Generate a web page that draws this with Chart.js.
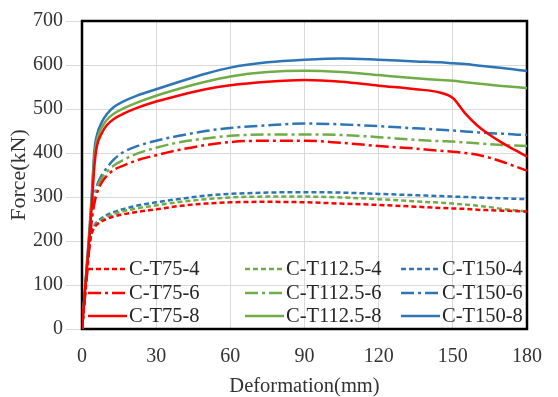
<!DOCTYPE html>
<html>
<head>
<meta charset="utf-8">
<script src="https://cdn.jsdelivr.net/npm/chart.js@4.4.0/dist/chart.umd.min.js"></script>
<style>
html,body{margin:0;padding:0;background:#fff;}
#wrap{width:558px;height:397px;position:relative;}
</style>
</head>
<body>
<div id="wrap"><canvas id="c" width="558" height="397"></canvas></div>
<script>
// Deformation (mm) sample positions
const deformation = [0,1,2,3,4,5,6,8,10,13,17,22,30,40,50,60,75,90,105,120,135,145,150,155,160,165,170,175,180];

// Force (kN) values per specimen
const CT75_4   = [0,68,135,190,218,230,237,245,250,256,261,266,272,280,285,288,289,288,285,282,278,275,274,273,271,270,269,268,267];
const CT75_6   = [0,60,122,188,250,285,308,333,348,362,372,383,395,408,418,425,428,428,423,416,410,405,403,400,396,389,380,370,360];
const CT75_8   = [0,70,140,210,285,370,415,445,463,478,490,502,517,532,545,554,562,566,562,553,545,537,525,490,462,441,423,407,392];
const CT112_4  = [0,69,138,192,220,232,240,249,255,262,268,274,281,289,295,299,301,301,299,295,290,287,285,283,280,277,273,270,267];
const CT112_6  = [0,63,127,195,258,293,318,343,357,372,385,398,412,425,433,439,442,442,441,436,430,427,426,424,422,420,418,417,416];
const CT112_8  = [0,72,145,218,300,390,428,458,475,490,502,514,530,547,562,574,584,587,584,577,570,566,564,561,558,555,552,550,547];
const CT150_4  = [0,70,140,195,222,235,243,252,259,266,273,280,288,296,303,307,310,311,310,307,304,302,301,300,299,298,297,296,295];
const CT150_6  = [0,65,130,200,265,300,325,350,366,386,403,415,428,440,450,457,463,467,465,461,456,453,451,449,447,445,444,442,441];
const CT150_8  = [0,75,150,225,310,405,440,470,488,505,518,530,545,563,580,594,606,612,615,612,608,606,604,602,599,596,593,590,586];

const seriesLabels = ['C-T75-4','C-T75-6','C-T75-8','C-T112.5-4','C-T112.5-6','C-T112.5-8','C-T150-4','C-T150-6','C-T150-8'];
const seriesValues = [CT75_4,CT75_6,CT75_8,CT112_4,CT112_6,CT112_8,CT150_4,CT150_6,CT150_8];

const xTicks = [0,30,60,90,120,150,180];
const yTicks = [0,100,200,300,400,500,600,700];

const RED='#FF0000', GREEN='#70AD47', BLUE='#2E75B6';
const colors = [RED,RED,RED,GREEN,GREEN,GREEN,BLUE,BLUE,BLUE];
const DASHED=[5,3], DASHDOT=[13,4,3,4], SOLID=[];
const dashes = [DASHED,DASHDOT,SOLID,DASHED,DASHDOT,SOLID,DASHED,DASHDOT,SOLID];

const FONT = "'Liberation Serif','Times New Roman',serif";

const datasets = seriesLabels.map((lab,i)=>({
  label: lab,
  data: deformation.map((x,j)=>({x:x,y:seriesValues[i][j]})),
  borderColor: colors[i],
  backgroundColor: colors[i],
  borderWidth: 2.5,
  borderDash: dashes[i],
  pointRadius: 0,
  fill: false,
  cubicInterpolationMode: 'monotone'
}));

const framePlugin = {
  id:'frame',
  beforeDatasetsDraw(chart){
    const {ctx, chartArea:a} = chart;
    ctx.save();
    ctx.strokeStyle='#000';
    ctx.lineWidth=2.5;
    ctx.strokeRect(a.left, a.top, a.right-a.left, a.bottom-a.top);
    ctx.restore();
  }
};

const legendPlugin = {
  id:'customLegend',
  afterDatasetsDraw(chart){
    const ctx = chart.ctx;
    const colX = [88, 245, 401];
    const rowY = [269, 293, 316];
    const lineLen = 39;
    ctx.save();
    ctx.font = "20.5px " + FONT;
    ctx.textBaseline = 'middle';
    ctx.fillStyle = '#262626';
    chart.data.datasets.forEach((ds,i)=>{
      const c = Math.floor(i/3), r = i%3;
      const x = colX[c], y = rowY[r];
      ctx.beginPath();
      ctx.strokeStyle = ds.borderColor;
      ctx.lineWidth = 2.5;
      ctx.setLineDash(ds.borderDash);
      ctx.moveTo(x,y); ctx.lineTo(x+lineLen,y);
      ctx.stroke();
      ctx.setLineDash([]);
      ctx.fillText(ds.label, x+lineLen+2, y+1);
    });
    ctx.restore();
  }
};

new Chart(document.getElementById('c'), {
  type:'line',
  data:{datasets},
  options:{
    responsive:false,
    animation:false,
    layout:{padding:{left:0,right:16,top:21,bottom:0}},
    plugins:{legend:{display:false}, tooltip:{enabled:false}},
    scales:{
      x:{
        type:'linear', min:0, max:180,
        afterBuildTicks(s){ s.ticks = xTicks.map(v=>({value:v})); },
        afterFit(s){ s.height = 68; },
        grid:{color:'#D9D9D9', lineWidth:1, drawTicks:false},
        border:{display:false},
        ticks:{padding:16, color:'#333', font:{family:FONT, size:20}},
        title:{display:true, text:'Deformation(mm)', color:'#333', font:{family:FONT, size:20.5, lineHeight:1.0}, padding:{top:0,bottom:0}}
      },
      y:{
        type:'linear', min:0, max:700,
        afterBuildTicks(s){ s.ticks = yTicks.map(v=>({value:v})); },
        afterFit(s){ s.width = 82; },
        grid:{color:'#D9D9D9', lineWidth:1, tickLength:16},
        border:{display:false},
        ticks:{padding:3, color:'#333', font:{family:FONT, size:20}},
        title:{display:true, text:'Force(kN)', color:'#333', font:{family:FONT, size:22, lineHeight:1.0}, padding:{top:8,bottom:0}}
      }
    }
  },
  plugins:[framePlugin, legendPlugin]
});
</script>
</body>
</html>
